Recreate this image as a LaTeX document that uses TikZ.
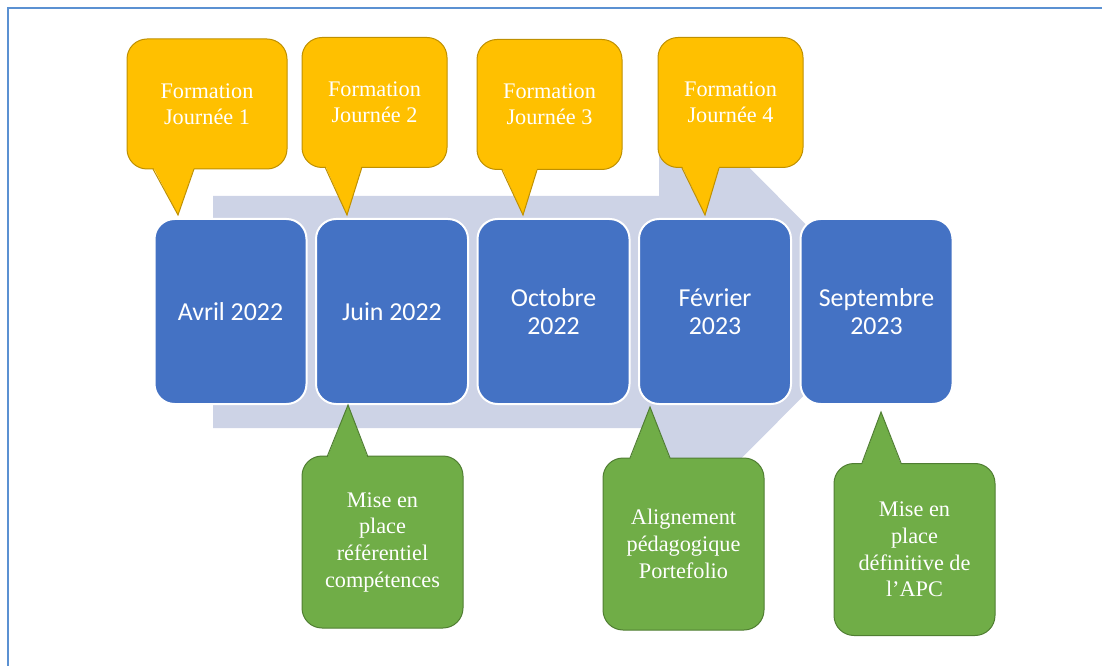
\documentclass[tikz,border=0pt]{standalone}
\usepackage{fontspec}
\setmainfont{Liberation Serif}
\newfontfamily\calibrifont{Carlito}
\definecolor{framecol}{RGB}{91,145,210}
\definecolor{arrowgray}{RGB}{205,211,230}
\definecolor{boxblue}{RGB}{68,114,196}
\definecolor{callyellow}{RGB}{255,192,0}
\definecolor{yellowline}{RGB}{191,144,0}
\definecolor{callgreen}{RGB}{112,173,71}
\definecolor{greenline}{RGB}{80,126,50}

\begin{document}
\begin{tikzpicture}[x=0.75pt,y=0.75pt,yscale=-1,xscale=1,
  datebox/.style={draw=white, line width=1.5pt, fill=boxblue, rounded corners=15pt,
    minimum width=114pt, minimum height=138.75pt, inner sep=0pt, align=center,
    text=white, font=\calibrifont\fontsize{19.4}{21}\selectfont},
  yellowcall/.style={draw=yellowline, line width=0.75pt, fill=callyellow, rounded corners=15pt,
    minimum width=108.75pt, minimum height=97.5pt, inner sep=0pt, align=center,
    text=white, font=\fontsize{16.7}{19.5}\selectfont},
  greencall/.style={draw=greenline, line width=0.75pt, fill=callgreen, rounded corners=15pt,
    minimum width=120.75pt, minimum height=129pt, inner sep=0pt, align=center,
    text=white, font=\fontsize{16.7}{20}\selectfont},
  yellowtip/.style={draw=yellowline, line width=0.75pt},
  greentip/.style={draw=greenline, line width=0.75pt}]
\useasboundingbox (0,0) rectangle (1102,666);

%Frame
\draw [framecol, line width=1.5pt] (8,666) -- (8,8) -- (1102,8) ;

%Shape: Big arrow behind the dates
\fill [arrowgray] (213,196) -- (659,196) -- (659,77) -- (890,309) -- (659,541) -- (659,428) -- (213,428) -- cycle ;

% Date boxes
\node [datebox] (avril) at (230.5,311.5) {Avril 2022};
\node [datebox] (juin) at (392,311.5) {Juin 2022};
\node [datebox] (octobre) at (553.5,311.5) {Octobre\\2022};
\node [datebox] (fevrier) at (715,311.5) {Février\\2023};
\node [datebox] (septembre) at (876.5,311.5) {Septembre\\2023};

%Callout: Journee 1
\node [yellowcall, minimum width=120pt] (form1) at (207,104) {Formation\\Journée 1};
\fill [callyellow] (152,165) -- (178,215) -- (195,165) -- cycle ;
\draw [yellowtip] (153,169) -- (178,215) -- (194,169) ;
%Callout: Journee 2
\node [yellowcall] (form2) at (374.5,102.5) {Formation\\Journée 2};
\fill [callyellow] (324,163) -- (347,215) -- (363,163) -- cycle ;
\draw [yellowtip] (325,167) -- (347,215) -- (362,167) ;
%Callout: Journee 3
\node [yellowcall] (form3) at (549.5,104.5) {Formation\\Journée 3};
\fill [callyellow] (501,166) -- (523,215) -- (538,166) -- cycle ;
\draw [yellowtip] (502,170) -- (523,215) -- (537,170) ;
%Callout: Journee 4
\node [yellowcall] (form4) at (730.5,102.5) {Formation\\Journée 4};
\fill [callyellow] (681,164) -- (705,215) -- (720,164) -- cycle ;
\draw [yellowtip] (682,168) -- (705,215) -- (719,168) ;

%Callout: referentiel
\node [greencall] (referentiel) at (382.5,542) {Mise en\\place\\référentiel\\compétences};
\fill [callgreen] (326,461) -- (348,405) -- (369,461) -- cycle ;
\draw [greentip] (327,457) -- (348,405) -- (368,457) ;
%Callout: alignement
\node [greencall] (alignement) at (683.5,544) {Alignement\\pédagogique\\Portefolio};
\fill [callgreen] (629,462) -- (650,407) -- (671,462) -- cycle ;
\draw [greentip] (630,458) -- (650,407) -- (670,458) ;
%Callout: APC
\node [greencall] (apc) at (914.5,549.5) {Mise en\\place\\définitive de\\l’APC};
\fill [callgreen] (861,467) -- (881,412) -- (902,467) -- cycle ;
\draw [greentip] (862,463) -- (881,412) -- (901,463) ;

\end{tikzpicture}
\end{document}
